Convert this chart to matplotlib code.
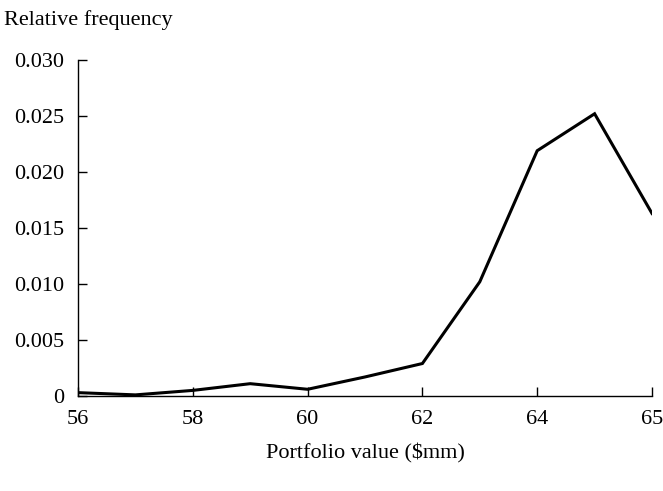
import matplotlib
matplotlib.use("Agg")
import matplotlib.pyplot as plt

x_values = [56, 57, 58, 59, 60, 61, 62, 63, 64, 65, 66]
rel_freq = [0.0003, 0.0001, 0.0005, 0.0011, 0.0006, 0.0017, 0.0029, 0.0102, 0.0219, 0.0252, 0.0163]
x_ticks = [56, 58, 60, 62, 64, 66]
x_tick_labels = ["56", "58", "60", "62", "64", "65"]
y_ticks = [0, 0.005, 0.010, 0.015, 0.020, 0.025, 0.030]
y_tick_labels = ["0", "0.005", "0.010", "0.015", "0.020", "0.025", "0.030"]

plt.rcParams['font.family'] = ['Liberation Serif', 'DejaVu Serif']

fig = plt.figure(figsize=(6.63, 4.91), dpi=100)
ax = fig.add_axes([78/663, 1-396/491, (652-78)/663, (396-60)/491])
ax.plot(x_values, rel_freq, color='black', linewidth=2.2, solid_joinstyle='miter')
ax.set_xlim(56, 66)
ax.set_ylim(0, 0.030)
ax.set_xticks(x_ticks)
ax.set_xticklabels(x_tick_labels)
ax.set_yticks(y_ticks)
ax.set_yticklabels(y_tick_labels)
for s in ['top', 'right']:
    ax.spines[s].set_visible(False)
for s in ['left', 'bottom']:
    ax.spines[s].set_linewidth(1.0)
ax.tick_params(axis='x', direction='in', length=6.5, width=1.0, labelsize=16, pad=10)
ax.tick_params(axis='y', direction='in', length=6.5, width=1.0, labelsize=16, pad=10)
fig.text(4/663, 1-20/491, "Relative frequency", fontsize=16, ha='left', va='center')
fig.text(365/663, 1-453/491, "Portfolio value ($mm)", fontsize=16, ha='center', va='center')
fig.savefig("out.png", dpi=100)
